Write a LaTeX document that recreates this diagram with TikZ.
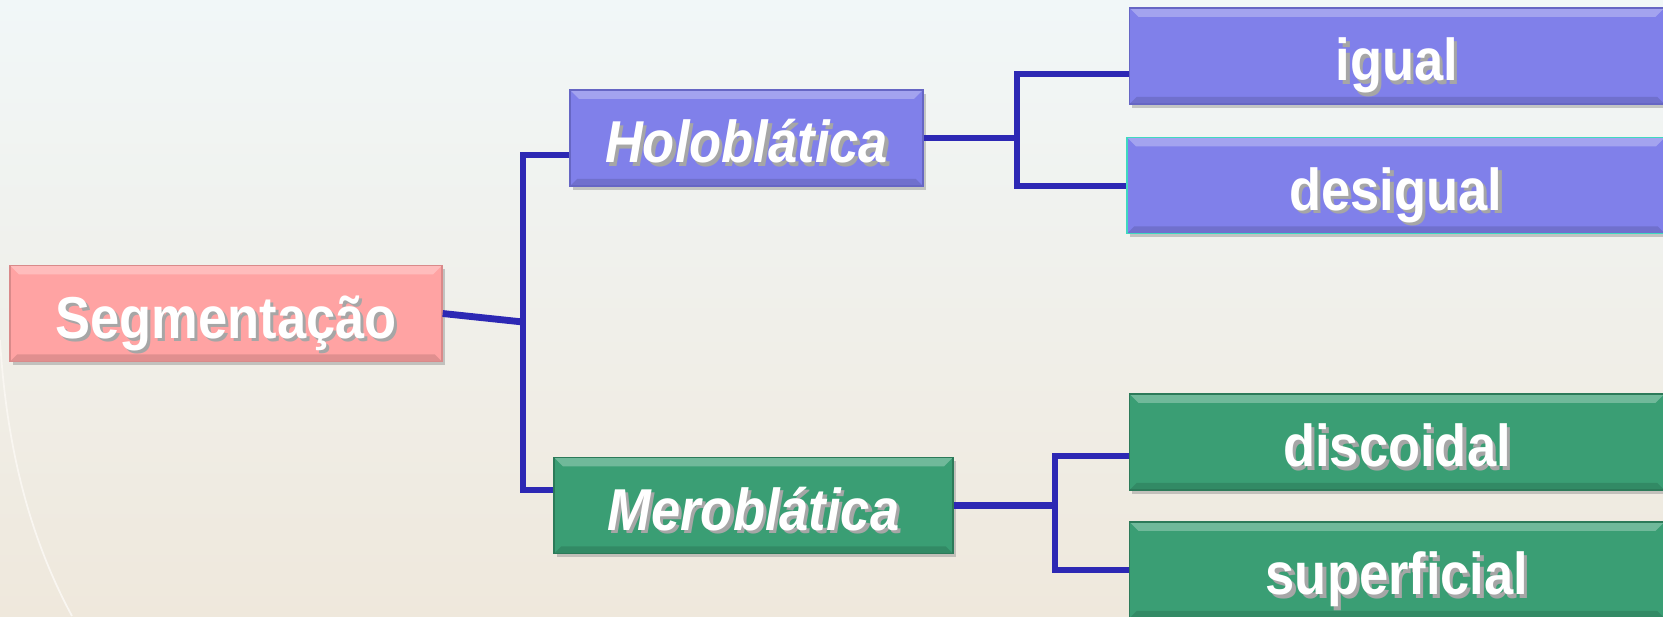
\documentclass[tikz,border=0pt]{standalone}
\usepackage{fontspec}
\setmainfont{Liberation Sans}
\usepackage{xcolor}
\usetikzlibrary{calc,shadows}
\definecolor{bgtop}{HTML}{F1F7F8}
\definecolor{bgbot}{HTML}{EFE8DC}
\definecolor{pinkfill}{HTML}{FFA3A3}
\definecolor{pinkedge}{HTML}{D98A8A}
\definecolor{purplefill}{HTML}{8080EA}
\definecolor{purpleedge}{HTML}{6666C4}
\definecolor{greenfill}{HTML}{3A9E74}
\definecolor{greenedge}{HTML}{2C7A59}
\definecolor{tealedge}{HTML}{3FD8C0}
\definecolor{linkblue}{HTML}{2D28B4}
\newcommand{\shtxt}[1]{\scalebox{1.03}[1.16]{\makebox[0pt][l]{\hspace{1.8pt}\raisebox{-1.8pt}{\textcolor{black!35}{#1}}}#1}}
\tikzset{
  box/.style={rectangle, minimum height=1.92cm, inner sep=0pt, text=white,
    text height=28pt, text depth=0pt,
    font=\fontsize{29}{34}\selectfont\bfseries, line width=0.8pt,
    drop shadow={shadow xshift=1.5pt, shadow yshift=-2pt, fill=black!45, opacity=.45},
    path picture={
      \fill[white, opacity=.28] (path picture bounding box.north west) -- (path picture bounding box.north east)
        -- ++(-5pt,-5pt) -- ($(path picture bounding box.north west)+(5pt,-5pt)$) -- cycle;
      \fill[black, opacity=.12] (path picture bounding box.south west) -- (path picture bounding box.south east)
        -- ++(-4pt,4pt) -- ($(path picture bounding box.south west)+(4pt,4pt)$) -- cycle;
    }},
  segbox/.style={box, fill=pinkfill, draw=pinkedge},
  holobox/.style={box, fill=purplefill, draw=purpleedge},
  merobox/.style={box, fill=greenfill, draw=greenedge},
  link/.style={draw=linkblue, line width=3.9pt},
}
\begin{document}
\begin{tikzpicture}[x=0.02cm, y=-0.02cm]
  \useasboundingbox (0,0) rectangle (1663,616);
  \clip (0,0) rectangle (1663,616);
  \shade[top color=bgtop, bottom color=bgbot] (0,0) rectangle (1663,616);
  \draw[white!60!bgbot, line width=1pt] (72,616) .. controls (20,520) and (5,420) .. (0,340);

  % boxes
  \node[segbox, minimum width=8.64cm] (seg) at (226,313.5) {\shtxt{Segmentação}};
  \node[holobox, minimum width=7.06cm] (holo) at (746.5,138) {\itshape\shtxt{Holoblática}};
  \node[merobox, minimum width=7.98cm] (mero) at (753.5,505.5) {\itshape\shtxt{Meroblática}};
  \node[holobox, minimum width=10.7cm] (igual) at (1397,56) {\shtxt{igual}};
  \node[holobox, draw=tealedge, minimum width=10.76cm] (desigual) at (1396,185.5) {\shtxt{desigual}};
  \node[merobox, minimum width=10.7cm] (disc) at (1397,442) {\shtxt{discoidal}};
  \node[merobox, minimum width=10.7cm] (sup) at (1397,570) {\shtxt{superficial}};

  % connectors
  \coordinate (s1) at (523,322);
  \coordinate (h1) at (523,155);
  \coordinate (m1) at (523,490);
  \draw[link] (seg.east) -- (s1);
  \draw[link] (h1 -| holo.west) -- (h1) -- (m1) -- (m1 -| mero.west);

  \coordinate (h2) at (1017,138);
  \coordinate (hi) at (1017,74);
  \coordinate (hd) at (1017,186);
  \draw[link] (holo.east) -- (h2);
  \draw[link] (hi -| igual.west) -- (hi) -- (hd) -- (hd -| desigual.west);

  \coordinate (m2) at (1055,505.5);
  \coordinate (md) at (1055,456);
  \coordinate (ms) at (1055,570);
  \draw[link] (mero.east) -- (m2);
  \draw[link] (md -| disc.west) -- (md) -- (ms) -- (ms -| sup.west);
\end{tikzpicture}
\end{document}
